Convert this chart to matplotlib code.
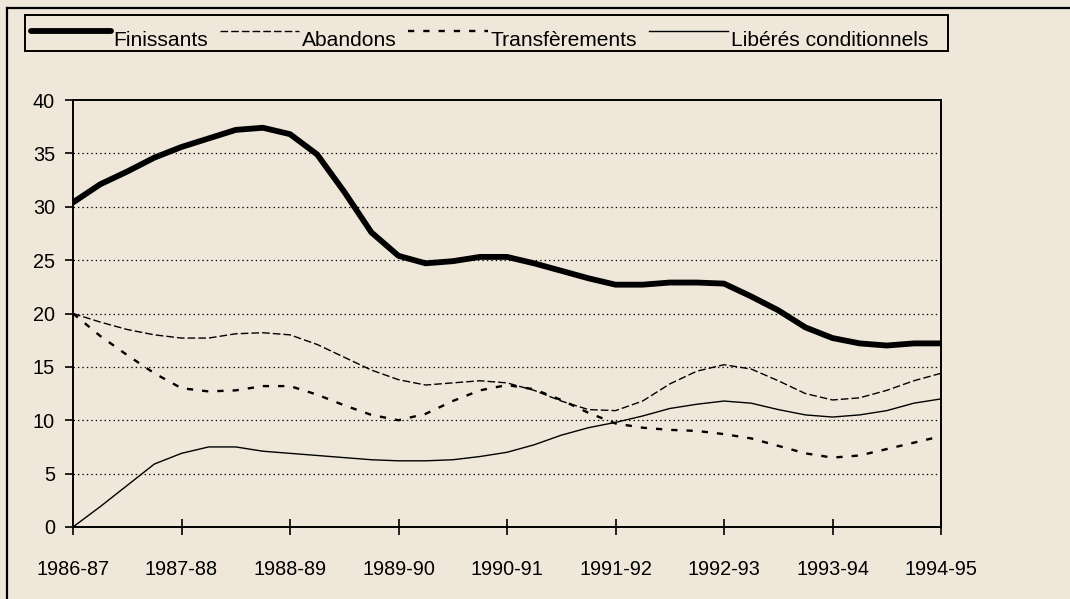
import matplotlib
matplotlib.use("Agg")
import matplotlib.pyplot as plt
from matplotlib.lines import Line2D
from matplotlib.patches import Rectangle
import numpy as np

plt.rcParams['font.family'] = ['Liberation Sans', 'DejaVu Sans']
plt.rcParams['lines.scale_dashes'] = False

years = ["1986-87", "1987-88", "1988-89", "1989-90", "1990-91",
         "1991-92", "1992-93", "1993-94", "1994-95"]

# values read at quarter-year steps
finissants = [30.4, 32.1, 33.3, 34.6, 35.6, 36.4, 37.2, 37.4, 36.8, 34.9, 31.4,
              27.6, 25.4, 24.7, 24.9, 25.3, 25.3, 24.7, 24.0, 23.3, 22.7, 22.7,
              22.9, 22.9, 22.8, 21.6, 20.3, 18.7, 17.7, 17.2, 17.0, 17.2, 17.2]
abandons = [20.0, 19.2, 18.5, 18.0, 17.7, 17.7, 18.1, 18.2, 18.0, 17.1, 15.9,
            14.7, 13.8, 13.3, 13.5, 13.7, 13.5, 12.8, 11.8, 11.0, 10.9, 11.8,
            13.4, 14.6, 15.2, 14.8, 13.7, 12.5, 11.9, 12.1, 12.8, 13.7, 14.4]
transferements = [20.0, 17.9, 16.1, 14.4, 13.0, 12.7, 12.8, 13.2, 13.2, 12.4, 11.4,
                  10.5, 10.0, 10.6, 11.8, 12.8, 13.3, 12.9, 11.9, 10.7, 9.7, 9.3,
                  9.1, 9.0, 8.7, 8.3, 7.6, 6.9, 6.5, 6.7, 7.3, 7.9, 8.5]
liberes = [0.0, 1.9, 3.9, 5.9, 6.9, 7.5, 7.5, 7.1, 6.9, 6.7, 6.5,
           6.3, 6.2, 6.2, 6.3, 6.6, 7.0, 7.7, 8.6, 9.3, 9.8, 10.4,
           11.1, 11.5, 11.8, 11.6, 11.0, 10.5, 10.3, 10.5, 10.9, 11.6, 12.0]
labels = ["Finissants", "Abandons", "Transfèrements", "Libérés conditionnels"]

bg = '#EFE7DA'
W, H = 1070, 599
fig = plt.figure(figsize=(W / 100, H / 100), dpi=100, facecolor=bg)
ax = fig.add_axes([73 / W, 1 - 527 / H, (941 - 73) / W, (527 - 100) / H])
ax.set_facecolor(bg)

x = np.arange(len(finissants)) * 0.25

l1, = ax.plot(x, finissants, color='black', lw=4.2, solid_capstyle='round', solid_joinstyle='round')
l2, = ax.plot(x, abandons, color='black', lw=1.0, linestyle=(0, (5.5, 2.2)))
l3, = ax.plot(x, transferements, color='black', lw=1.7, linestyle=(0, (4.5, 6.5)))
l4, = ax.plot(x, liberes, color='black', lw=1.0)

ax.set_xlim(0, 8)
ax.set_ylim(0, 40)
ax.set_xticks(range(len(years)))
ax.set_xticklabels(years)
ax.set_yticks(range(0, 41, 5))
for yv in range(5, 40, 5):
    ax.axhline(yv, color='black', lw=0.9, linestyle=(0, (1, 2.2)), zorder=0)

for s in ax.spines.values():
    s.set_color('black')
    s.set_linewidth(1.4)

ax.tick_params(axis='x', direction='inout', length=12, width=1.2, pad=18, labelsize=14.3)
ax.tick_params(axis='y', direction='out', length=6, width=1.2, pad=7, labelsize=14.3)

# legend (frame drawn separately)
leg = fig.legend([l1, l2, l3, l4], labels, loc='upper left',
                 bbox_to_anchor=(25 / W, 1 - 25 / H), ncol=4, frameon=False,
                 fontsize=15.1, handlelength=3.8, handletextpad=0.12,
                 columnspacing=0.55, borderpad=0.3, borderaxespad=0)
for ln in leg.get_lines():
    ln.set_ydata(np.asarray(ln.get_ydata()) + 5.8)
fig.add_artist(Rectangle((25 / W, 1 - 51 / H), (948 - 25) / W, 36 / H,
                         transform=fig.transFigure, fill=False,
                         edgecolor='black', lw=1.4))

# outer frame (partially visible)
fig.add_artist(Line2D([7 / W, 7 / W], [0, 1 - 8 / H], transform=fig.transFigure,
                      color='black', lw=1.6))
fig.add_artist(Line2D([7 / W, 1.0], [1 - 8 / H, 1 - 8 / H], transform=fig.transFigure,
                      color='black', lw=1.6))

fig.savefig('out.png', dpi=100, facecolor=bg)
